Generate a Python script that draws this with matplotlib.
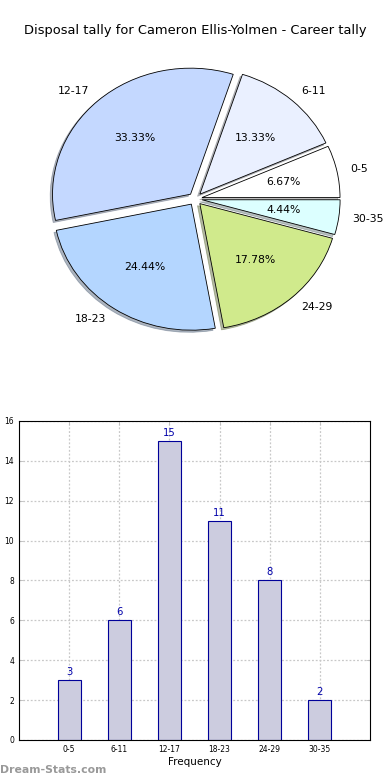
import numpy as np
import matplotlib
matplotlib.use('Agg')
import matplotlib.pyplot as plt

plt.rcParams['font.family'] = ['DejaVu Sans']

# data
categories = ['0-5', '6-11', '12-17', '18-23', '24-29', '30-35']
tally = [3, 6, 15, 11, 8, 2]
pie_colors = ['#ffffff', '#eaf0ff', '#c4d8ff', '#b4d6ff', '#d0ea8c', '#dcffff']
title = 'Disposal tally for Cameron Ellis-Yolmen - Career tally'

fig = plt.figure(figsize=(3.9, 7.8), dpi=100)
fig.patch.set_facecolor('white')

# pie
ax1 = fig.add_axes([0.058, 0.543, 0.885, 0.404])
wedges, texts, autotexts = ax1.pie(
    tally, labels=categories, colors=pie_colors, explode=[0.05] * len(tally),
    autopct='%1.2f%%', startangle=0, counterclock=True,
    shadow=dict(ox=-0.012, oy=-0.012, shade=0.5),
    wedgeprops=dict(edgecolor='black', linewidth=0.6),
    textprops=dict(fontsize=7.8))
ax1.set_aspect('auto')
ax1.set_xlim(-1.25, 1.25)
ax1.set_ylim(-1.25, 1.25)
ax1.axis('off')
fig.text(0.5, 0.961, title, ha='center', va='center', fontsize=9.4)

# bar
ax2 = fig.add_axes([0.0487, 0.0513, 0.9, 0.409])
x = np.arange(len(categories))
ax2.bar(x, tally, width=0.46, color='#ccccdf', edgecolor='#000099', linewidth=0.8, zorder=2)
for xi, v in zip(x, tally):
    ax2.text(xi, v + 0.15, str(v), ha='center', va='bottom', fontsize=7.2, color='#0000aa')
ax2.set_xlim(-1, 6)
ax2.set_ylim(0, 16)
ax2.set_yticks(range(0, 17, 2))
ax2.set_xticks(x)
ax2.set_xticklabels(categories)
ax2.tick_params(labelsize=5.5, direction='in', top=True, right=True, length=3, width=0.6,
                color='#bbbbbb')
ax2.grid(True, linestyle=(0, (1.5, 1.5)), color='#c8c8c8', linewidth=0.9, zorder=0)
ax2.set_axisbelow(True)
for s in ax2.spines.values():
    s.set_linewidth(0.8)
ax2.set_xlabel('Frequency', fontsize=7.5, labelpad=2)
ax2.set_ylabel('Disposal Tally', fontsize=7.5)
ax2.yaxis.set_label_coords(-0.075, 0.5)

fig.text(0.0, 0.006, 'Dream-Stats.com', fontsize=7.8, color='#999999', fontweight='bold', ha='left', va='bottom')

plt.savefig('out.png', dpi=100)
